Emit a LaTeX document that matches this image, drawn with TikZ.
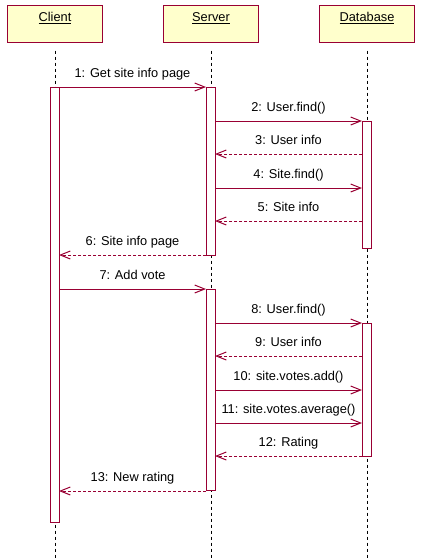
\documentclass[tikz,border=0pt]{standalone}
\usepackage{fontspec}
\setmainfont{Liberation Sans}
\usetikzlibrary{arrows.meta}
\definecolor{umlred}{RGB}{153,0,51}
\definecolor{umlfill}{RGB}{255,255,204}

\begin{document}
\begin{tikzpicture}[x=1pt,y=-1pt,line width=1pt]
   \useasboundingbox (0,0) rectangle (422,560);
   \fontsize{12.8}{15}\selectfont
   \tikzstyle{object}=[draw=umlred, fill=umlfill, minimum width=95pt, minimum height=37pt, inner sep=0pt, text height=2pt, text depth=6pt]
   \tikzstyle{activation}=[draw=umlred, fill=white, minimum width=9pt, inner sep=0pt]
   \tikzstyle{lifeline}=[black, dash pattern=on 3pt off 3pt]
   \tikzstyle{call}=[umlred, -{Straight Barb[length=10pt,width=8pt,line width=1pt]}]
   \tikzstyle{reply}=[call, dash pattern=on 3pt off 2pt]
   % objects and their lifelines
   \foreach \x/\obj/\title in {55/client/Client,211/server/Server,367/database/Database} {
       \node[object] (\obj) at (\x,23.5) {\underline{\title}};
       \coordinate (\obj end) at (\x,560);
       \draw[lifeline] ([yshift=-8pt]\obj.south) -- (\obj end);
   }
   % activation bars
   \node[activation, minimum height=435pt] (clientact) at (55,304.5) {};
   \node[activation, minimum height=168pt] (serveract1) at (211,171) {};
   \node[activation, minimum height=127pt] (databaseact1) at (367,184.5) {};
   \node[activation, minimum height=201pt] (serveract2) at (211,389.5) {};
   \node[activation, minimum height=133pt] (databaseact2) at (367,389.5) {};
   % messages
   \foreach \i/\y/\from/\to/\kind/\msg in {1/87/59/206/call/{1: Get site info page},
       2/121/215/362/call/{2: User.find()},
       3/154/362/215/reply/{3: User info},
       4/188/215/362/call/{4: Site.find()},
       5/221/362/215/reply/{5: Site info},
       6/255/206/59/reply/{6: Site info page},
       7/289/59/206/call/{7: Add vote},
       8/323/215/362/call/{8: User.find()},
       9/356/362/215/reply/{9: User info},
       10/390/215/362/call/{10: site.votes.add()},
       11/423/215/362/call/{11: site.votes.average()},
       12/456/362/215/reply/{12: Rating},
       13/491/206/59/reply/{13: New rating}} {
       \coordinate (m\i from) at (\from,\y);
       \coordinate (m\i to) at (\to,\y);
       \draw[\kind] (m\i from) -- node[anchor=base, yshift=9.5pt, text=black, inner sep=0pt] {\msg} (m\i to);
   }
\end{tikzpicture}
\end{document}
